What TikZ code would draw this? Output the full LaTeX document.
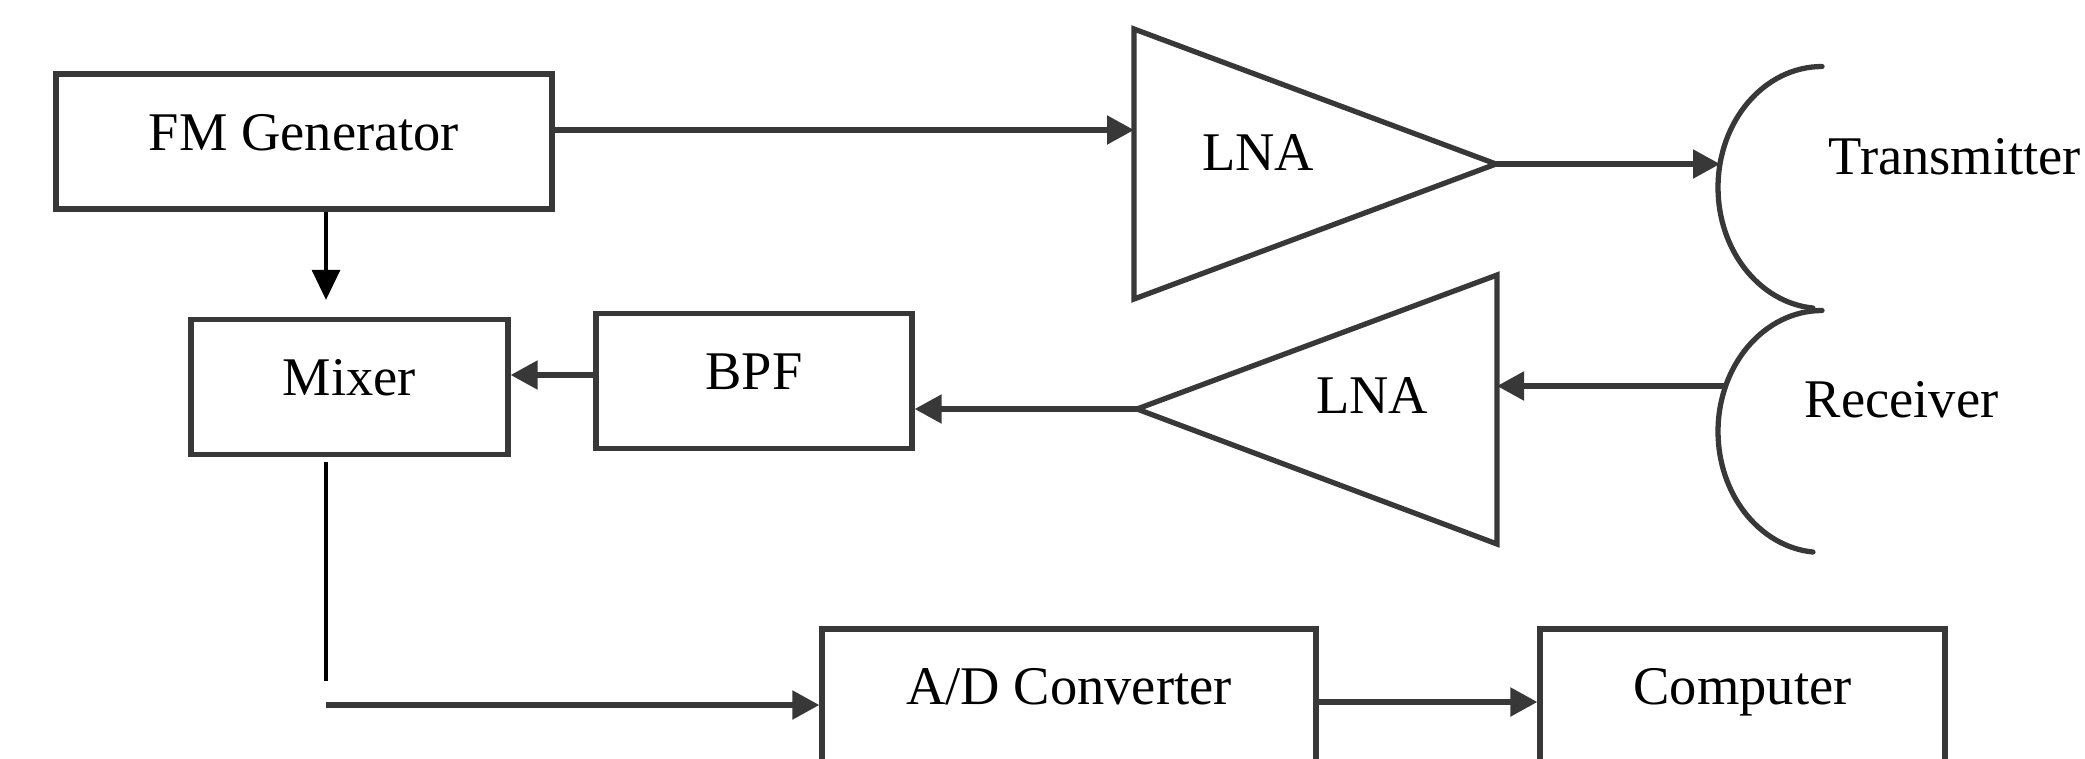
\documentclass[tikz,border=0pt]{standalone}
\usepackage{fontspec}
\setmainfont{Liberation Serif}
\usepackage{tikz}
\usetikzlibrary{arrows.meta,positioning}

\definecolor{linegray}{HTML}{383838}

\begin{document}
\begin{tikzpicture}[font=\fontsize{15.5}{18}\selectfont,
		block/.style={draw=linegray,line width=1.5pt,minimum height=1.35cm,minimum width=#1,
			text height=11pt,text depth=6pt,inner sep=0pt},
		block/.default=3.16cm,
		amp/.style={draw=linegray,line width=1.5pt,line join=miter},
		link/.style={draw=linegray,line width=1.5pt,-{Triangle[length=2.7mm,width=2.8mm]}},
		wire/.style={draw=black,line width=0.9pt}]
				\useasboundingbox (0,0) rectangle (20.85,7.58);
				% the blocks
				\node[block=4.96cm] (fmgen) at (3.04,6.165) {FM Generator};
				\node[block=3.17cm] (mixer) at (3.495,3.71) {Mixer};
				\node[block] (bpf) at (7.54,3.77) {BPF};
				\node[block=4.94cm,minimum height=1.33cm] (adc) at (10.69,0.625) {A/D Converter};
				\node[block=4.05cm,minimum height=1.33cm] (pc) at (17.425,0.625) {Computer};
				% the two amplifiers, one each way
				\draw[amp] (11.34,7.29) coordinate (txtop) -- (14.96,5.94) coordinate (txout)
					-- (11.34,4.59) coordinate (txbot) -- cycle;
				\node (txlna) at (12.58,6.05) {LNA};
				\draw[amp] (14.97,4.83) coordinate (rxtop) -- (11.37,3.49) coordinate (rxout)
					-- (14.97,2.14) coordinate (rxbot) -- cycle;
				\node (rxlna) at (13.72,3.62) {LNA};
				% the antennas
				\foreach \cy in {5.705,3.265}
					\draw[amp,line cap=round] (18.22,{\cy+1.21}) arc[start angle=90,end angle=265,x radius=1.04cm,y radius=1.21cm];
				\node[anchor=base west,inner sep=0pt] (txant) at (18.28,5.84) {Transmitter};
				\node[anchor=base west,inner sep=0pt] (rxant) at (18.04,3.41) {Receiver};
				% where the connectors meet the shapes
				\coordinate (txin) at (11.34,6.28);
				\coordinate (txfeed) at (17.20,5.94);
				\coordinate (rxfeed) at (17.24,3.72);
				\coordinate (tap) at (3.26,0.77);
				\coordinate (turn) at (3.26,0.53);
				\path ([yshift=0.6mm]bpf.west) coordinate (bpfout);
				\path ([yshift=-0.65mm]adc.east) coordinate (adcout);
				% the signal path
				\draw[link] (fmgen.east |- txin) -- (txin);
				\draw[link] (txout) -- (txfeed);
				\draw[link] (rxfeed) -- (rxfeed -| rxtop);
				\draw[link] (rxout) -- (rxout -| bpf.east);
				\draw[link] (bpfout) -- (bpfout -| mixer.east);
				\draw[wire,-{Triangle[length=3mm,width=2.8mm]},shorten >=1.7mm] (fmgen.south -| tap) -- (mixer.north -| tap);
				\draw[wire] ([yshift=-0.5mm]mixer.south -| tap) -- (tap);
				\draw[link] (turn) -- (turn -| adc.west);
				\draw[link] (adcout) -- (adcout -| pc.west);
\end{tikzpicture}
\end{document}
